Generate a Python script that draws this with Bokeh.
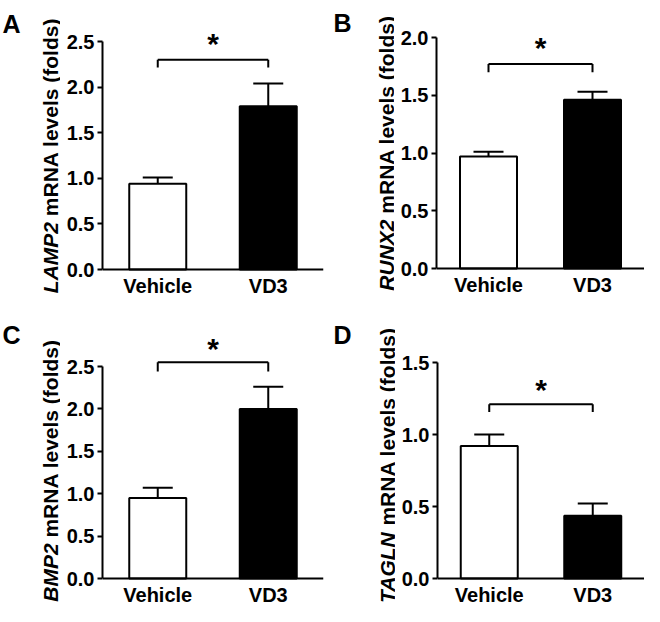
import math
from bokeh.plotting import figure
from bokeh.models import (FactorRange, Range1d, FixedTicker, NumeralTickFormatter,
                          Whisker, TeeHead, ColumnDataSource)
from bokeh.layouts import column, row
from bokeh.core.properties import value
from bokeh.embed import file_html
from bokeh.resources import INLINE

# ---------------- data ----------------
categories = ["Vehicle", "VD3"]
genes = ["LAMP2", "RUNX2", "BMP2", "TAGLN"]
panel_letters = ["A", "B", "C", "D"]

lamp2_mean = [0.94, 1.79]
lamp2_err = [0.07, 0.25]
runx2_mean = [0.97, 1.46]
runx2_err = [0.04, 0.07]
bmp2_mean = [0.95, 2.00]
bmp2_err = [0.12, 0.26]
tagln_mean = [0.92, 0.435]
tagln_err = [0.08, 0.085]

lamp2_ticks = [0.0, 0.5, 1.0, 1.5, 2.0, 2.5]
runx2_ticks = [0.0, 0.5, 1.0, 1.5, 2.0]
bmp2_ticks = [0.0, 0.5, 1.0, 1.5, 2.0, 2.5]
tagln_ticks = [0.0, 0.5, 1.0, 1.5]

bracket_top = [2.30, 1.77, 2.55, 1.21]
bracket_end = [2.215, 1.70, 2.44, 1.156]
star_y = [2.48, 1.91, 2.71, 1.31]
star_text = ["*", "*", "*", "*"]

y_label_rest = "mRNA levels (folds)"

# ---------------- layout (geometry only) ----------------
FONT = "Liberation Sans"
ROW_H = [305, 301]
# bottom = distance of the zero line from the figure bottom (px)
geom = [
    dict(r=0, sw=60, pw=270, left=42, right=7, bottom=36, ppu=91.2, lx=2, lb=23, yl=50, lc=0),
    dict(r=0, sw=64, pw=250, left=42, right=0, bottom=37, ppu=115.5, lx=3, lb=22, yl=56, lc=0),
    dict(r=1, sw=60, pw=270, left=42, right=7, bottom=28, ppu=84.8, lx=2, lb=29, yl=50, lc=2),
    dict(r=1, sw=65, pw=249, left=42, right=0, bottom=28, ppu=144.0, lx=3, lb=29, yl=57, lc=5),
]

CW = {" ": 278, "(": 333, ")": 333, "a": 556, "d": 611, "e": 556, "f": 333,
      "l": 278, "m": 889, "o": 611, "s": 556, "v": 556, "R": 722, "N": 722,
      "A": 722, "M": 833, "L": 611, "P": 667, "B": 722, "U": 722, "X": 667,
      "T": 611, "G": 778, "2": 556}


def text_w(s, fs):
    return sum(CW.get(c, 556) for c in s) / 1000.0 * fs


means = [lamp2_mean, runx2_mean, bmp2_mean, tagln_mean]
errs = [lamp2_err, runx2_err, bmp2_err, tagln_err]
ticks = [lamp2_ticks, runx2_ticks, bmp2_ticks, tagln_ticks]

panels = []
for i in range(4):
    g = geom[i]
    H = ROW_H[g["r"]]
    frame_w = g["pw"] - g["left"] - g["right"]
    y_start = -g["bottom"] / g["ppu"]
    y_end = (H - g["bottom"]) / g["ppu"]
    top_tick = ticks[i][-1]

    # ---- label strip: panel letter + y-axis title (pixel coordinates) ----
    s = figure(width=g["sw"], height=H, x_range=Range1d(0, g["sw"]),
               y_range=Range1d(0, H), x_axis_type=None, y_axis_type=None,
               output_backend="svg", toolbar_location=None, min_border=0,
               min_border_left=0, min_border_right=0, min_border_top=0,
               min_border_bottom=0)
    s.outline_line_color = None
    s.xgrid.visible = False
    s.ygrid.visible = False
    s.border_fill_color = "white"

    fs = 21
    w_gene = text_w(genes[i], fs)
    w_sp = text_w(" ", fs)
    w_rest = text_w(y_label_rest, fs)
    centre = g["bottom"] + g["ppu"] * top_tick / 2.0 + g["lc"]
    start = centre - (w_gene + w_sp + w_rest) / 2.0
    s.text(x=[g["yl"]], y=[start + w_gene / 2.0], text=[genes[i]], angle=math.pi / 2,
           text_align="center", text_baseline="alphabetic", text_font=value(FONT),
           text_font_style="bold italic", text_font_size=f"{fs}px", text_color="black")
    s.text(x=[g["yl"]], y=[start + w_gene + w_sp + w_rest / 2.0], text=[y_label_rest],
           angle=math.pi / 2, text_align="center", text_baseline="alphabetic",
           text_font=value(FONT), text_font_style="bold", text_font_size=f"{fs}px",
           text_color="black")
    s.text(x=[g["lx"]], y=[H - g["lb"]], text=[panel_letters[i]],
           text_align="left", text_baseline="alphabetic", text_font=value(FONT),
           text_font_style="bold", text_font_size="25px", text_color="black")

    # ---- bar chart ----
    p = figure(width=g["pw"], height=H, x_range=FactorRange(factors=categories),
               y_range=Range1d(y_start, y_end), output_backend="svg",
               toolbar_location=None, min_border_left=g["left"],
               min_border_right=g["right"], min_border_top=0,
               min_border_bottom=0)
    p.outline_line_color = None
    p.background_fill_color = "white"
    p.border_fill_color = "white"
    p.xgrid.visible = False
    p.ygrid.visible = False

    for ax in (p.xaxis[0], p.yaxis[0]):
        ax.axis_line_width = 2
        ax.axis_line_color = "black"
        ax.major_tick_line_width = 2
        ax.major_tick_line_color = "black"
        ax.minor_tick_line_color = None
        ax.major_label_text_font = FONT
        ax.major_label_text_font_style = "bold"
        ax.major_label_text_font_size = "20px"
        ax.major_label_text_color = "black"
    p.xaxis.fixed_location = 0
    p.xaxis.major_tick_out = 0
    p.xaxis.major_tick_in = 0
    p.xaxis.major_label_standoff = 5
    p.yaxis.major_tick_out = 5
    p.yaxis.major_tick_in = 0
    p.yaxis.major_label_standoff = 3
    p.yaxis.ticker = FixedTicker(ticks=ticks[i])
    p.yaxis.formatter = NumeralTickFormatter(format="0.0")
    p.yaxis.bounds = (0, top_tick)

    bar_w = 57.0 / (frame_w / 2.0)
    src = ColumnDataSource(dict(
        x=categories, top=means[i],
        upper=[m + e for m, e in zip(means[i], errs[i])],
        fill=["white", "black"]))
    p.vbar(x="x", top="top", width=bar_w, bottom=0, source=src,
           fill_color="fill", line_color="black", line_width=2)
    p.add_layout(Whisker(base="x", lower="top", upper="upper", source=src,
                         dimension="height", line_width=2, line_color="black",
                         upper_head=TeeHead(size=30, line_width=2, line_color="black"),
                         lower_head=None))

    p.segment(x0=[categories[0], categories[0], categories[1]],
              x1=[categories[1], categories[0], categories[1]],
              y0=[bracket_top[i], bracket_top[i], bracket_top[i]],
              y1=[bracket_top[i], bracket_end[i], bracket_end[i]],
              line_width=2, line_color="black")
    p.text(x=[categories[0]], y=[star_y[i]], text=[star_text[i]],
           x_offset=frame_w / 4.0, text_align="center", text_baseline="middle",
           text_font=value(FONT), text_font_style="bold", text_font_size="30px",
           text_color="black")

    panels.append(row(s, p))

layout = column(row(panels[0], panels[1]), row(panels[2], panels[3]))
open("out.html", "w").write(file_html(layout, INLINE))
